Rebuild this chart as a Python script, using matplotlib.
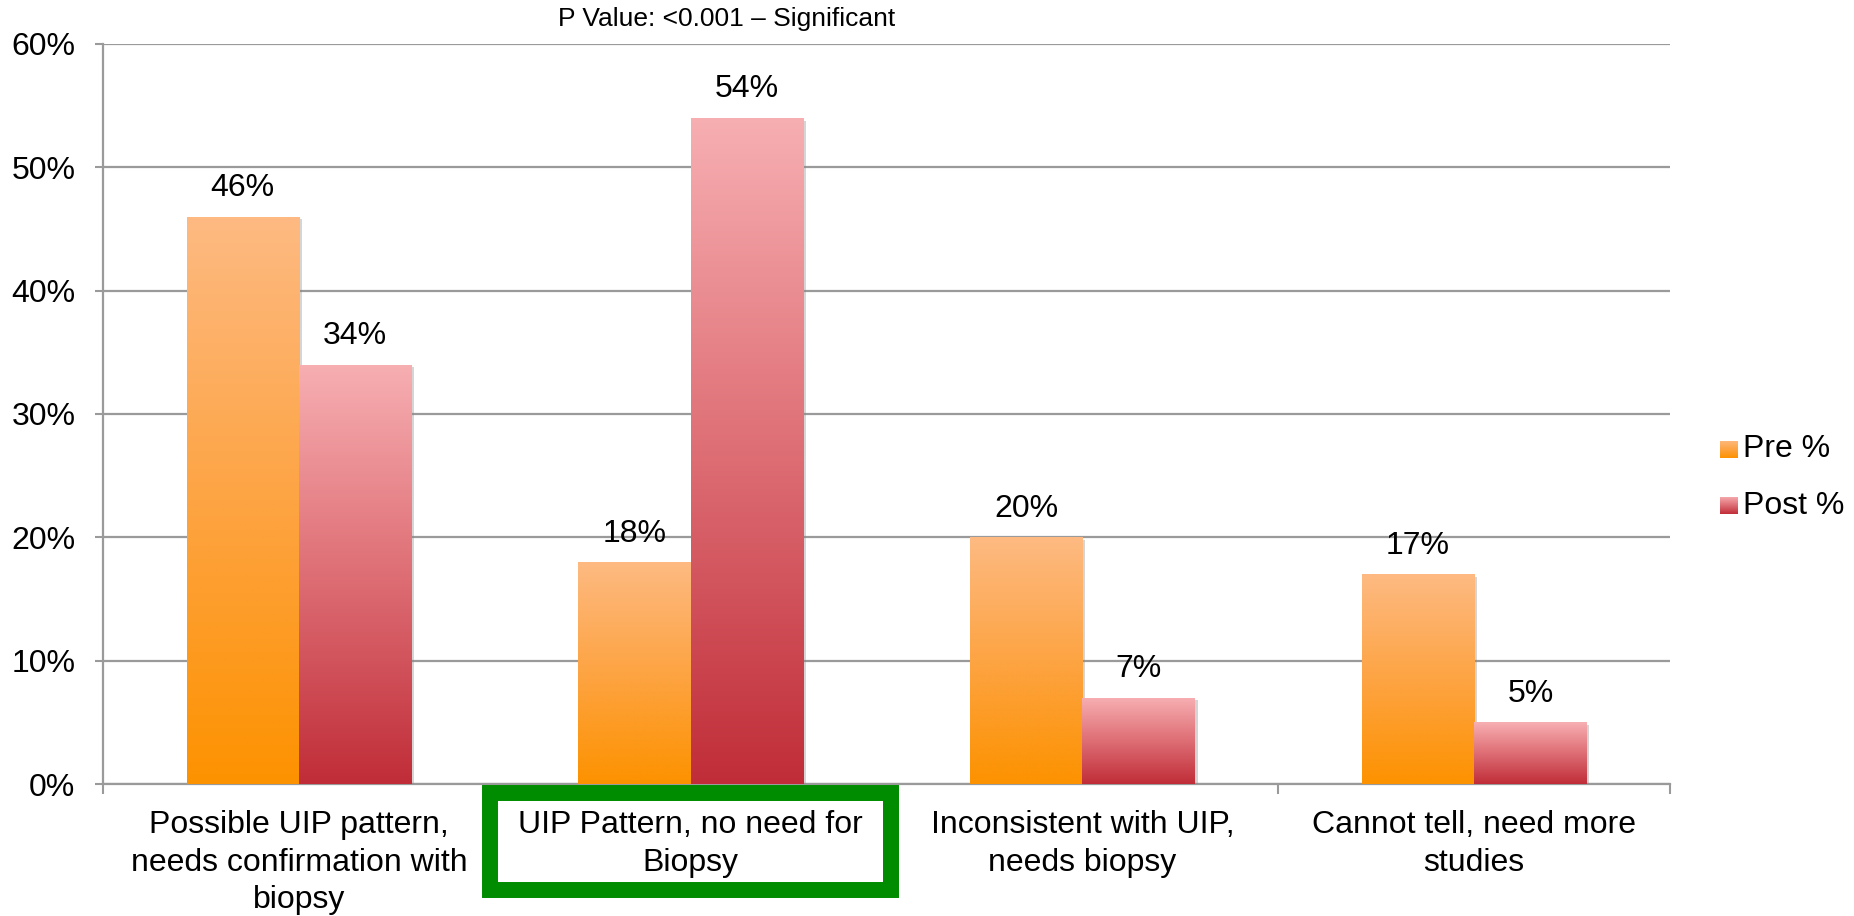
import numpy as np
import matplotlib
matplotlib.use("Agg")
import matplotlib.pyplot as plt
from matplotlib.colors import LinearSegmentedColormap
from matplotlib.patches import Rectangle
from matplotlib.transforms import blended_transform_factory
import matplotlib.patheffects as pe

plt.rcParams['font.family'] = ['Liberation Sans', 'DejaVu Sans']

categories = [
    "Possible UIP pattern,\nneeds confirmation with\nbiopsy",
    "UIP Pattern, no need for\nBiopsy",
    "Inconsistent with UIP,\nneeds biopsy",
    "Cannot tell, need more\nstudies",
]
series_names = ["Pre %", "Post %"]
pre_values = [46, 18, 20, 17]
post_values = [34, 54, 7, 5]
y_ticks = [0, 10, 20, 30, 40, 50, 60]
y_tick_labels = ["0%", "10%", "20%", "30%", "40%", "50%", "60%"]
note_text = "P Value: <0.001 \u2013 Significant"
highlight_index = 1

# vertical gradients (bottom colour -> top colour)
pre_cmap = LinearSegmentedColormap.from_list("pre", ["#FD9200", "#FDA443", "#FEBA82"])
post_cmap = LinearSegmentedColormap.from_list("post", ["#C02D38", "#DE6E75", "#F7AFB2"])

fig = plt.figure(figsize=(18.54, 9.16), dpi=100)
ax = fig.add_axes([0.0556, 0.1441, 0.8452, 0.8079])

x = np.arange(len(categories))
w = 0.287
grad = np.linspace(0, 1, 256).reshape(-1, 1)


def gradient_bars(xpos, values, cmap):
    bars = ax.bar(xpos, values, width=w, color=cmap(0.0), linewidth=0, zorder=3,
                  path_effects=[pe.SimplePatchShadow(offset=(2, -2), shadow_rgbFace='#888888', alpha=0.35),
                                pe.Normal()])
    for rect, v in zip(bars, values):
        x0, x1 = rect.get_x(), rect.get_x() + rect.get_width()
        im = ax.imshow(grad, cmap=cmap, origin='lower', aspect='auto',
                       extent=(x0, x1, 0, v), zorder=4, interpolation='bilinear')
        im.set_clip_path(rect)
        ax.annotate(f"{v}%", (rect.get_x() + rect.get_width() / 2, v),
                    xytext=(0, 20.5), textcoords='offset points',
                    ha='center', va='center', fontsize=23, color='black', zorder=5)
    return bars


gradient_bars(x - w / 2, pre_values, pre_cmap)
gradient_bars(x + w / 2, post_values, post_cmap)

ax.set_xlim(-0.5, len(categories) - 0.5)
ax.set_ylim(0, 60)
ax.set_yticks(y_ticks)
ax.set_yticklabels(y_tick_labels, fontsize=23)
ax.set_xticks(x)
ax.set_xticklabels(categories, fontsize=23, linespacing=1.32)
ax.set_xticks(np.arange(-0.5, len(categories), 1.0), minor=True)
ax.tick_params(axis='x', which='major', length=0, pad=19)
ax.tick_params(axis='x', which='minor', length=7, width=1.5, color='#9a9a9a', direction='out')
ax.tick_params(axis='y', length=6, width=1.5, color='#9a9a9a', pad=14)

ax.yaxis.grid(True, color='#9a9a9a', linewidth=1.6, zorder=0)
ax.set_axisbelow(True)
for side in ('top', 'right'):
    ax.spines[side].set_visible(False)
for side in ('left', 'bottom'):
    ax.spines[side].set_color('#9a9a9a')
    ax.spines[side].set_linewidth(1.6)

# green frame around the highlighted category label
trans = blended_transform_factory(ax.transData, fig.transFigure)
half = 0.5115
frame = Rectangle((highlight_index - half, 0.0284), 2 * half, 0.1059,
                  transform=trans, fill=False, edgecolor='#008C00',
                  linewidth=11.5, joinstyle='miter', clip_on=False, zorder=6)
fig.add_artist(frame)

# note above the plot
fig.text(0.392, 0.979, note_text, ha='center', va='center', fontsize=19)

# legend with gradient swatches
for i, (name, cmap) in enumerate(zip(series_names, [pre_cmap, post_cmap])):
    bottom = 0.5005 - i * 0.0618
    sw = fig.add_axes([0.9277, bottom, 0.00917, 0.01856])
    sw.imshow(grad, cmap=cmap, origin='lower', aspect='auto')
    sw.set_axis_off()
    fig.text(0.9401, bottom + 0.00928, name, ha='left', va='center', fontsize=23)

fig.savefig("out.png", dpi=100)
